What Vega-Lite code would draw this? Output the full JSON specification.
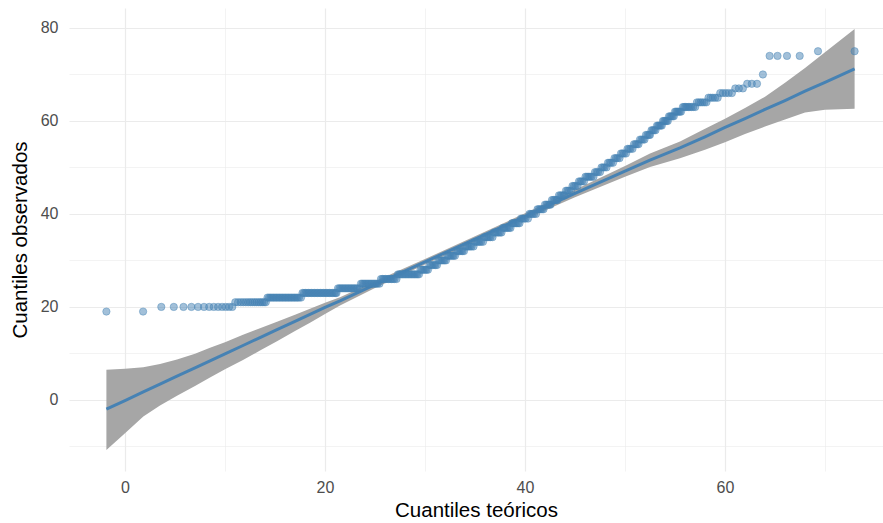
{
"$schema": "https://vega.github.io/schema/vega-lite/v6.json",
"width": 814,
"height": 463,
"autosize": {"type": "none"},
"padding": {"left": 69, "top": 8, "right": 0, "bottom": 52},
"background": "white",
"config": {"view": {"stroke": null}, "font": "Liberation Sans"},
"datasets": {
"smooth": [
{"x":-1.86,"fit":-2.0,"lo":-10.8,"hi":6.5},
{"x":0,"fit":-0.15,"lo":-7.2,"hi":6.7},
{"x":1.83,"fit":1.7,"lo":-3.6,"hi":7.0},
{"x":3.5,"fit":3.4,"lo":-1.2,"hi":7.7},
{"x":5.2,"fit":5.1,"lo":0.9,"hi":8.7},
{"x":7,"fit":6.9,"lo":3.0,"hi":9.9},
{"x":8.5,"fit":8.4,"lo":4.8,"hi":11.2},
{"x":10,"fit":9.9,"lo":6.6,"hi":12.4},
{"x":11.8,"fit":11.7,"lo":8.6,"hi":14.0},
{"x":13.5,"fit":13.4,"lo":10.6,"hi":15.4},
{"x":15.2,"fit":15.1,"lo":12.6,"hi":16.8},
{"x":17,"fit":16.9,"lo":14.8,"hi":18.3},
{"x":18.5,"fit":18.4,"lo":16.6,"hi":19.6},
{"x":20,"fit":19.9,"lo":18.5,"hi":20.9},
{"x":21.5,"fit":21.3,"lo":20.3,"hi":22.1},
{"x":25,"fit":24.8,"lo":24.05,"hi":25.5},
{"x":30,"fit":29.7,"lo":29.1,"hi":30.3},
{"x":35,"fit":34.6,"lo":34.0,"hi":35.2},
{"x":40,"fit":39.5,"lo":38.85,"hi":40.15},
{"x":45,"fit":44.4,"lo":43.6,"hi":45.2},
{"x":50,"fit":49.2,"lo":48.0,"hi":50.3},
{"x":52.5,"fit":51.6,"lo":50.1,"hi":53.0},
{"x":55.5,"fit":54.2,"lo":52.0,"hi":55.6},
{"x":58,"fit":56.6,"lo":53.8,"hi":58.3},
{"x":60,"fit":58.6,"lo":55.4,"hi":60.5},
{"x":62,"fit":60.5,"lo":57.2,"hi":62.8},
{"x":64,"fit":62.5,"lo":58.8,"hi":65.2},
{"x":66,"fit":64.4,"lo":60.3,"hi":68.2},
{"x":68,"fit":66.4,"lo":61.8,"hi":71.4},
{"x":70,"fit":68.3,"lo":62.4,"hi":74.8},
{"x":72.96,"fit":71.2,"lo":62.6,"hi":79.8}
],
"qq": [
{"x":-1.86,"y":19},{"x":1.81,"y":19},
{"x":3.63,"y":20},{"x":4.88,"y":20},{"x":5.85,"y":20},{"x":6.64,"y":20},{"x":7.31,"y":20},{"x":7.9,"y":20},{"x":8.42,"y":20},{"x":8.88,"y":20},{"x":9.31,"y":20},{"x":9.71,"y":20},{"x":10.07,"y":20},{"x":10.41,"y":20},{"x":10.73,"y":20},
{"x":11.03,"y":21},{"x":11.31,"y":21},{"x":11.58,"y":21},{"x":11.83,"y":21},{"x":12.08,"y":21},{"x":12.32,"y":21},{"x":12.54,"y":21},{"x":12.75,"y":21},{"x":12.96,"y":21},{"x":13.16,"y":21},{"x":13.37,"y":21},{"x":13.55,"y":21},{"x":13.73,"y":21},{"x":13.91,"y":21},{"x":14.08,"y":21},
{"x":14.25,"y":22},{"x":14.4,"y":22},{"x":14.55,"y":22},{"x":14.7,"y":22},{"x":14.85,"y":22},{"x":15.0,"y":22},{"x":15.15,"y":22},{"x":15.3,"y":22},{"x":15.45,"y":22},{"x":15.6,"y":22},{"x":15.75,"y":22},{"x":15.9,"y":22},{"x":16.05,"y":22},{"x":16.2,"y":22},{"x":16.35,"y":22},{"x":16.5,"y":22},{"x":16.65,"y":22},{"x":16.8,"y":22},{"x":16.95,"y":22},{"x":17.1,"y":22},{"x":17.25,"y":22},{"x":17.4,"y":22},{"x":17.6,"y":22},
{"x":17.75,"y":23},{"x":17.9,"y":23},{"x":18.05,"y":23},{"x":18.2,"y":23},{"x":18.35,"y":23},{"x":18.5,"y":23},{"x":18.65,"y":23},{"x":18.8,"y":23},{"x":18.95,"y":23},{"x":19.1,"y":23},{"x":19.25,"y":23},{"x":19.4,"y":23},{"x":19.55,"y":23},{"x":19.7,"y":23},{"x":19.85,"y":23},{"x":20.0,"y":23},{"x":20.15,"y":23},{"x":20.3,"y":23},{"x":20.45,"y":23},{"x":20.6,"y":23},{"x":20.75,"y":23},{"x":20.9,"y":23},{"x":21.05,"y":23},{"x":21.15,"y":23},
{"x":21.3,"y":24},{"x":21.45,"y":24},{"x":21.6,"y":24},{"x":21.75,"y":24},{"x":21.9,"y":24},{"x":22.05,"y":24},{"x":22.2,"y":24},{"x":22.35,"y":24},{"x":22.5,"y":24},{"x":22.65,"y":24},{"x":22.8,"y":24},{"x":22.95,"y":24},{"x":23.1,"y":24},{"x":23.25,"y":24},{"x":23.45,"y":24},
{"x":23.6,"y":25},{"x":23.75,"y":25},{"x":23.9,"y":25},{"x":24.05,"y":25},{"x":24.2,"y":25},{"x":24.35,"y":25},{"x":24.5,"y":25},{"x":24.65,"y":25},{"x":24.8,"y":25},{"x":24.95,"y":25},{"x":25.1,"y":25},{"x":25.25,"y":25},{"x":25.45,"y":25},
{"x":25.6,"y":26},{"x":25.75,"y":26},{"x":25.9,"y":26},{"x":26.05,"y":26},{"x":26.2,"y":26},{"x":26.35,"y":26},{"x":26.5,"y":26},{"x":26.65,"y":26},{"x":26.8,"y":26},{"x":26.95,"y":26},{"x":27.15,"y":26},
{"x":27.3,"y":27},{"x":27.45,"y":27},{"x":27.6,"y":27},{"x":27.75,"y":27},{"x":27.9,"y":27},{"x":28.05,"y":27},{"x":28.2,"y":27},{"x":28.35,"y":27},{"x":28.5,"y":27},{"x":28.65,"y":27},{"x":28.8,"y":27},{"x":28.95,"y":27},{"x":29.1,"y":27},{"x":29.25,"y":27},{"x":29.4,"y":27},
{"x":29.55,"y":28},{"x":29.7,"y":28},{"x":29.85,"y":28},{"x":30.0,"y":28},{"x":30.15,"y":28},{"x":30.3,"y":28},
{"x":30.45,"y":29},{"x":30.6,"y":29},{"x":30.75,"y":29},{"x":30.9,"y":29},{"x":31.05,"y":29},{"x":31.2,"y":29},
{"x":31.35,"y":30},{"x":31.5,"y":30},{"x":31.65,"y":30},{"x":31.8,"y":30},{"x":31.95,"y":30},{"x":32.1,"y":30},
{"x":32.25,"y":31},{"x":32.4,"y":31},{"x":32.55,"y":31},{"x":32.7,"y":31},{"x":32.85,"y":31},{"x":33.0,"y":31},
{"x":33.15,"y":32},{"x":33.3,"y":32},{"x":33.45,"y":32},{"x":33.6,"y":32},{"x":33.75,"y":32},{"x":33.9,"y":32},
{"x":34.05,"y":33},{"x":34.2,"y":33},{"x":34.35,"y":33},{"x":34.5,"y":33},{"x":34.65,"y":33},{"x":34.85,"y":33},
{"x":35.0,"y":34},{"x":35.15,"y":34},{"x":35.3,"y":34},{"x":35.45,"y":34},{"x":35.6,"y":34},{"x":35.8,"y":34},
{"x":35.95,"y":35},{"x":36.1,"y":35},{"x":36.25,"y":35},{"x":36.4,"y":35},{"x":36.55,"y":35},{"x":36.75,"y":35},
{"x":36.9,"y":36},{"x":37.05,"y":36},{"x":37.2,"y":36},{"x":37.35,"y":36},{"x":37.5,"y":36},{"x":37.65,"y":36},
{"x":37.8,"y":37},{"x":37.95,"y":37},{"x":38.1,"y":37},{"x":38.25,"y":37},{"x":38.4,"y":37},{"x":38.55,"y":37},
{"x":38.7,"y":38},{"x":38.85,"y":38},{"x":39.0,"y":38},{"x":39.15,"y":38},{"x":39.3,"y":38},{"x":39.45,"y":38},
{"x":39.6,"y":39},{"x":39.75,"y":39},{"x":39.9,"y":39},{"x":40.05,"y":39},{"x":40.3,"y":39},
{"x":40.45,"y":40},{"x":40.6,"y":40},{"x":40.75,"y":40},{"x":40.9,"y":40},{"x":41.1,"y":40},
{"x":41.25,"y":41},{"x":41.4,"y":41},{"x":41.55,"y":41},{"x":41.7,"y":41},{"x":41.85,"y":41},
{"x":42.0,"y":42},{"x":42.15,"y":42},{"x":42.3,"y":42},{"x":42.45,"y":42},{"x":42.55,"y":42},
{"x":42.7,"y":43},{"x":42.85,"y":43},{"x":43.0,"y":43},{"x":43.15,"y":43},{"x":43.25,"y":43},
{"x":43.4,"y":44},{"x":43.55,"y":44},{"x":43.7,"y":44},{"x":43.85,"y":44},{"x":43.95,"y":44},
{"x":44.1,"y":45},{"x":44.25,"y":45},{"x":44.4,"y":45},{"x":44.6,"y":45},
{"x":44.75,"y":46},{"x":44.9,"y":46},{"x":45.05,"y":46},{"x":45.25,"y":46},
{"x":45.4,"y":47},{"x":45.55,"y":47},{"x":45.7,"y":47},{"x":45.9,"y":47},
{"x":46.05,"y":48},{"x":46.2,"y":48},{"x":46.35,"y":48},{"x":46.5,"y":48},{"x":46.65,"y":48},{"x":46.85,"y":48},
{"x":47.0,"y":49},{"x":47.15,"y":49},{"x":47.3,"y":49},{"x":47.5,"y":49},
{"x":47.65,"y":50},{"x":47.8,"y":50},{"x":47.95,"y":50},{"x":48.15,"y":50},
{"x":48.3,"y":51},{"x":48.45,"y":51},{"x":48.6,"y":51},{"x":48.8,"y":51},
{"x":48.95,"y":52},{"x":49.1,"y":52},{"x":49.25,"y":52},{"x":49.45,"y":52},
{"x":49.6,"y":53},{"x":49.75,"y":53},{"x":49.9,"y":53},{"x":50.1,"y":53},
{"x":50.25,"y":54},{"x":50.4,"y":54},{"x":50.55,"y":54},{"x":50.75,"y":54},
{"x":50.9,"y":55},{"x":51.05,"y":55},{"x":51.2,"y":55},{"x":51.35,"y":55},
{"x":51.5,"y":56},{"x":51.65,"y":56},{"x":51.8,"y":56},{"x":51.95,"y":56},
{"x":52.1,"y":57},{"x":52.25,"y":57},{"x":52.4,"y":57},{"x":52.5,"y":57},
{"x":52.65,"y":58},{"x":52.78,"y":58},{"x":52.91,"y":58},{"x":53.05,"y":58},
{"x":53.2,"y":59},{"x":53.32,"y":59},{"x":53.44,"y":59},{"x":53.56,"y":59},{"x":53.68,"y":59},
{"x":53.8,"y":60},{"x":53.92,"y":60},{"x":54.04,"y":60},{"x":54.16,"y":60},{"x":54.28,"y":60},
{"x":54.4,"y":61},{"x":54.52,"y":61},{"x":54.64,"y":61},{"x":54.76,"y":61},{"x":54.88,"y":61},
{"x":55.0,"y":62},{"x":55.12,"y":62},{"x":55.24,"y":62},{"x":55.36,"y":62},{"x":55.48,"y":62},{"x":55.6,"y":62},
{"x":55.79,"y":63},{"x":55.92,"y":63},{"x":56.05,"y":63},{"x":56.19,"y":63},{"x":56.33,"y":63},{"x":56.48,"y":63},{"x":56.64,"y":63},{"x":56.82,"y":63},{"x":57.02,"y":63},
{"x":57.19,"y":64},{"x":57.37,"y":64},{"x":57.55,"y":64},{"x":57.74,"y":64},{"x":57.94,"y":64},{"x":58.14,"y":64},
{"x":58.35,"y":65},{"x":58.56,"y":65},{"x":58.78,"y":65},{"x":59.02,"y":65},{"x":59.27,"y":65},
{"x":59.52,"y":66},{"x":59.79,"y":66},{"x":60.08,"y":66},{"x":60.37,"y":66},{"x":60.69,"y":66},
{"x":61.03,"y":67},{"x":61.39,"y":67},{"x":61.79,"y":67},
{"x":62.22,"y":68},{"x":62.68,"y":68},{"x":63.2,"y":68},
{"x":63.79,"y":70},
{"x":64.46,"y":74},{"x":65.25,"y":74},{"x":66.2,"y":74},{"x":67.47,"y":74},
{"x":69.3,"y":75},{"x":72.96,"y":75}
]
},
"encoding": {
"x": {"type": "quantitative", "scale": {"domain": [-5.6, 75.8], "nice": false, "zero": false},
 "axis": {"title": "Cuantiles teóricos", "values": [0,10,20,30,40,50,60,70],
  "labelExpr": "datum.value % 20 === 0 ? datum.label : ''",
  "grid": true, "gridColor": "#EBEBEB",
  "gridWidth": {"condition": {"test": "datum.value % 20 !== 0", "value": 0.6}, "value": 1.2},
  "domain": false, "ticks": false, "labelFontSize": 16, "labelColor": "#4D4D4D", "labelPadding": 8,
  "labelFont": "Liberation Sans", "titleFont": "Liberation Sans", "titleFontSize": 20.5, "titleFontWeight": "normal", "titleColor": "#000000", "titlePadding": 5}},
"y": {"type": "quantitative", "scale": {"domain": [-15.3, 84.3], "nice": false, "zero": false},
 "axis": {"title": "Cuantiles observados", "values": [-10,0,10,20,30,40,50,60,70,80],
  "labelExpr": "datum.value % 20 === 0 ? datum.label : ''",
  "grid": true, "gridColor": "#EBEBEB",
  "gridWidth": {"condition": {"test": "datum.value % 20 !== 0", "value": 0.6}, "value": 1.2},
  "domain": false, "ticks": false, "labelFontSize": 16, "labelColor": "#4D4D4D", "labelPadding": 11,
  "labelFont": "Liberation Sans", "titleFont": "Liberation Sans", "titleFontSize": 20.5, "titleFontWeight": "normal", "titleColor": "#000000", "titlePadding": 10}}
},
"layer": [
{"data": {"name": "smooth"}, "mark": {"type": "area", "color": "#A6A6A6", "opacity": 1},
 "encoding": {"x": {"field": "x"}, "y": {"field": "hi"}, "y2": {"field": "lo"}}},
{"data": {"name": "smooth"}, "mark": {"type": "line", "color": "#4682B4", "strokeWidth": 3},
 "encoding": {"x": {"field": "x"}, "y": {"field": "fit"}}},
{"data": {"name": "qq"}, "mark": {"type": "point", "filled": true, "size": 54, "fill": "#4682B4", "stroke": "#4682B4", "strokeWidth": 0.8, "fillOpacity": 0.5, "strokeOpacity": 0.55},
 "encoding": {"x": {"field": "x"}, "y": {"field": "y"}}}
]
}
